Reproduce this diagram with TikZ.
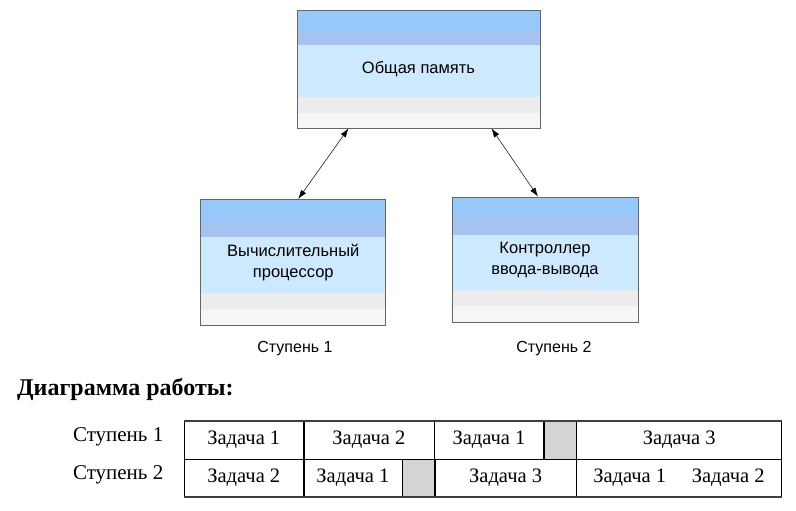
\documentclass[tikz,border=0pt]{standalone}
\usepackage{fontspec}
\setmainfont{Liberation Serif}
\setsansfont{Liberation Sans}
\usetikzlibrary{arrows.meta, calc, positioning}
\definecolor{bandA}{RGB}{150, 200, 250}
\definecolor{bandB}{RGB}{164, 195, 238}
\definecolor{bandC}{RGB}{205, 233, 253}
\definecolor{bandD}{RGB}{236, 236, 237}
\definecolor{bandE}{RGB}{246, 246, 247}
\definecolor{zellgrau}{RGB}{212, 212, 214}

\begin{document}
\begin{tikzpicture}[x=1pt, y=-1pt,
				>={Latex[length=9pt, width=6pt]},   %Pfeilspitzen
				blok/.style={draw=black!60, line width=0.8pt, inner sep=0pt, align=center,
					font=\sffamily\fontsize{16.5}{21}\selectfont,
					path picture={
						\foreach \a/\b/\c in {0/.17/bandA, .17/.30/bandB, .30/.74/bandC, .74/.87/bandD, .87/1/bandE}
						\fill[\c] ($(path picture bounding box.north west)!\a!(path picture bounding box.south west)$)
						rectangle ($(path picture bounding box.north east)!\b!(path picture bounding box.south east)$);
					}},
				schild/.style={inner sep=0pt, font=\sffamily\fontsize{16}{18}\selectfont},
				zelle/.style={draw, line width=0.6pt, minimum height=37.5pt, inner sep=0pt, anchor=north west,
					font=\fontsize{20.5}{22}\selectfont},
				grau/.style={zelle, fill=zellgrau, minimum width=32pt},
				zeile/.style={inner sep=0pt, anchor=east, font=\fontsize{21}{22}\selectfont}]
				%Bildbereich
				\useasboundingbox (0,0) rectangle (796,511);
				% Bloecke zeichnen
				\node[blok, minimum width=243pt, minimum height=118pt] (speicher) at (418.5,69) {Общая память};
				\node[blok, minimum width=185pt, minimum height=126pt] (prozessor) at (293.3,262.3) {Вычислительный\\процессор};
				\node[blok, minimum width=186pt, minimum height=125pt] (kontroller) at (545,259.5) {Контроллер\\ввода-вывода};
				\node[schild] (stufeA) at (295,349) {Ступень 1};
				\node[schild] (stufeB) at (554,349) {Ступень 2};
				% Verbindungen
				\draw[<->, line width=0.5pt] ([xshift=-70pt]speicher.south) -- ([xshift=5pt]prozessor.north);
				\draw[<->, line width=0.5pt] ([xshift=73pt]speicher.south) -- ([xshift=-7pt]kontroller.north);
				% Diagramm
				\node[inner sep=0pt, anchor=base west, font=\bfseries\fontsize{24}{26}\selectfont] (titel) at (17,395.7) {Диаграмма работы:};
				\node[zeile] (zeileA) at (163.5,437) {Ступень 1};
				\node[zeile] (zeileB) at (163.5,475) {Ступень 2};
				% Ступень 1
				\node[zelle, minimum width=119pt] (a1) at (184,421) {Задача 1};
				\node[zelle, minimum width=130pt] (a2) at (a1.north east) {Задача 2};
				\node[zelle, minimum width=109pt] (a3) at (a2.north east) {Задача 1};
				\node[grau] (a4) at (a3.north east) {};
				\node[zelle, minimum width=205pt] (a5) at (a4.north east) {Задача 3};
				% Ступень 2
				\node[zelle, minimum width=119pt] (b1) at (a1.south west) {Задача 2};
				\node[zelle, minimum width=98pt] (b2) at (b1.north east) {Задача 1};
				\node[grau] (b3) at (b2.north east) {};
				\node[zelle, minimum width=141pt] (b4) at (b3.north east) {Задача 3};
				\node[zelle, minimum width=205pt] (b5) at (b4.north east) {};
				\node[font=\fontsize{20.5}{22}\selectfont, inner sep=0pt] (b5a) at ([xshift=-49.5pt]b5.center) {Задача 1};
				\node[font=\fontsize{20.5}{22}\selectfont, inner sep=0pt] (b5b) at ([xshift=49pt]b5.center) {Задача 2};
				% Rahmen
				\draw[black!75, line width=1.6pt] (a1.north west) -- (a5.north east);
				\draw[black!75, line width=1.6pt] (b1.south west) -- (b5.south east);
			\end{tikzpicture}
\end{document}
